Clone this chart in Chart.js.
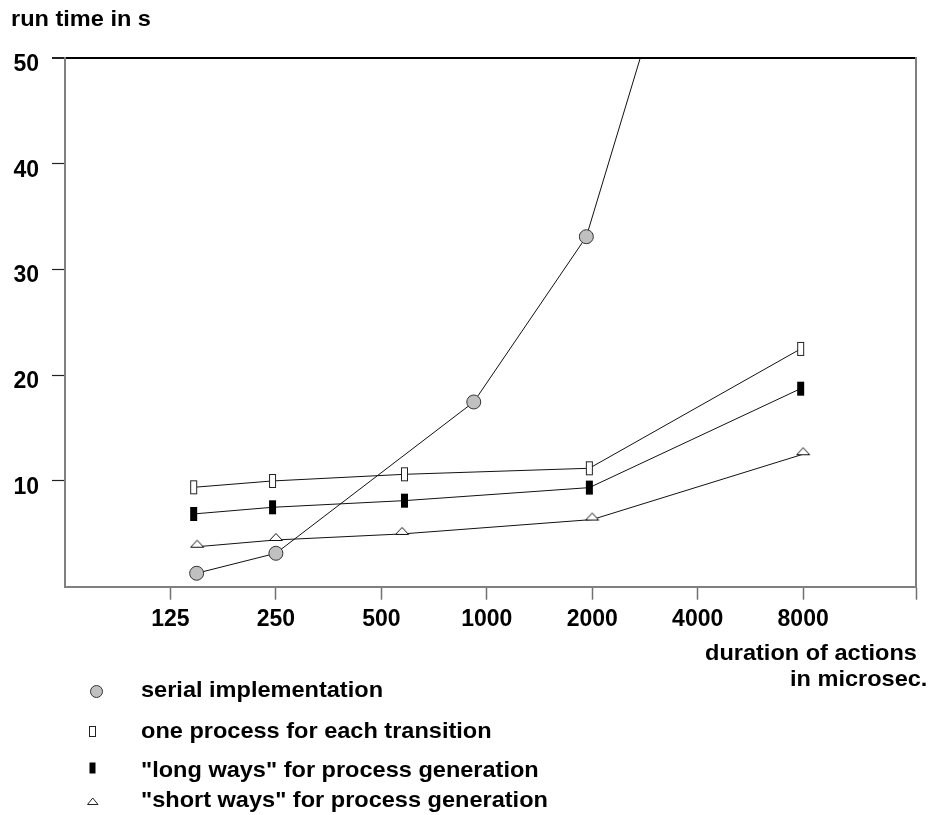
<!DOCTYPE html>
<html><head><meta charset="utf-8">
<script src="https://cdn.jsdelivr.net/npm/chart.js@4"></script>
<style>
html,body{margin:0;padding:0;background:#fff;}
#wrap{position:relative;width:930px;height:815px;overflow:hidden;}
#c{position:absolute;left:0;top:0;}
.t{position:absolute;font-family:"Liberation Sans",Arial,Helvetica,sans-serif;font-weight:bold;font-size:22px;line-height:22px;white-space:nowrap;color:#000;transform:scaleX(1.07);transform-origin:0 0;}
.m{position:absolute;}
</style></head>
<body><div id="wrap">
<canvas id="c" width="930" height="815"></canvas>
<div class="t" style="left:11px;top:8px">run time in s</div>
<div class="t" style="left:705px;top:641.5px">duration of actions</div>
<div class="t" style="left:790px;top:667.5px">in microsec.</div>
<svg class="m" style="left:89px;top:684px" width="15" height="15"><circle cx="7.5" cy="7.5" r="6" fill="#c0c0c0" stroke="#333" stroke-width="1"/></svg>
<svg class="m" style="left:89px;top:726px" width="8" height="12"><rect x="0.5" y="0.5" width="6" height="10" fill="#fff" stroke="#222" stroke-width="1"/></svg>
<svg class="m" style="left:89px;top:762px" width="8" height="12"><rect x="0.5" y="0.5" width="6" height="11" fill="#000"/></svg>
<svg class="m" style="left:87px;top:797px" width="12" height="9"><polygon points="0.5,7.5 11,7.5 5.75,1" fill="#fff" stroke="#222" stroke-width="1"/></svg>
<div class="t" style="left:141px;top:678.5px">serial implementation</div>
<div class="t" style="left:141px;top:719.5px">one process for each transition</div>
<div class="t" style="left:141px;top:758.5px">"long ways" for process generation</div>
<div class="t" style="left:141px;top:788.5px">"short ways" for process generation</div>
</div>
<script>
// ---- data ----
const xTickValues = [125, 250, 500, 1000, 2000, 4000, 8000];
const xMin = 62.5;
const xMax = 16800;
const yTickValues = [10, 20, 30, 40, 50];

const serialX = [148.5, 250, 918, 1924, 4000];
const serialY = [1.27, 3.16, 17.47, 33.1, 68];

const oneProcX = [145.6, 244.5, 582, 1962, 7870];
const oneProcY = [9.40, 10.0, 10.63, 11.2, 22.49];

const longWaysX = [145.6, 244.5, 582, 1962, 7870];
const longWaysY = [6.88, 7.51, 8.14, 9.37, 18.73];

const shortWaysX = [149, 250, 573, 2000, 8000];
const shortWaysY = [3.78, 4.42, 4.99, 6.35, 12.53];

const seriesNames = ['serial implementation', 'one process for each transition',
  '"long ways" for process generation', '"short ways" for process generation'];

// ---- marker images ----
function mk(w, h, draw) { const c = document.createElement('canvas'); c.width = w; c.height = h; draw(c.getContext('2d')); return c; }
const openRect = mk(9, 16, ctx => { ctx.fillStyle = '#fff'; ctx.fillRect(1, 1, 7, 14); ctx.strokeStyle = '#222'; ctx.lineWidth = 1; ctx.strokeRect(1.5, 1.5, 6, 13); });
const fillRect = mk(9, 16, ctx => { ctx.fillStyle = '#000'; ctx.fillRect(1, 1, 7, 14); });
const triImg = mk(16, 16, ctx => { ctx.beginPath(); ctx.moveTo(1.5, 8.5); ctx.lineTo(14.5, 8.5); ctx.lineTo(8, 1.5); ctx.closePath(); ctx.fillStyle = '#fff'; ctx.fill(); ctx.strokeStyle = '#111'; ctx.lineWidth = 1; ctx.stroke(); });

const zip = (xs, ys) => xs.map((x, i) => ({ x, y: ys[i] }));
const FONT = 'Liberation Sans, Arial, Helvetica, sans-serif';

const lineBase = { borderColor: '#111', borderWidth: 1, fill: false, tension: 0, showLine: true };

new Chart(document.getElementById('c'), {
  type: 'line',
  data: {
    datasets: [
      Object.assign({}, lineBase, { label: seriesNames[1], data: zip(oneProcX, oneProcY), pointStyle: openRect, pointRadius: 5 }),
      Object.assign({}, lineBase, { label: seriesNames[2], data: zip(longWaysX, longWaysY), pointStyle: fillRect, pointRadius: 5 }),
      Object.assign({}, lineBase, { label: seriesNames[3], data: zip(shortWaysX, shortWaysY), pointStyle: triImg, pointRadius: 5 }),
      Object.assign({}, lineBase, { label: seriesNames[0], data: zip(serialX, serialY), pointStyle: 'circle', pointRadius: 7,
        pointBackgroundColor: '#c0c0c0', pointBorderColor: '#333', pointBorderWidth: 1 })
    ]
  },
  options: {
    responsive: false,
    animation: false,
    layout: { padding: { left: 0, top: 58, right: 14, bottom: 0 } },
    plugins: { legend: { display: false }, tooltip: { enabled: false }, title: { display: false } },
    events: [],
    scales: {
      x: {
        type: 'logarithmic', min: xMin, max: xMax,
        afterBuildTicks(a) { a.ticks = xTickValues.concat([xMax]).map(v => ({ value: v })); },
        afterFit(a) { a.height = 228.3; },
        ticks: { autoSkip: false, maxRotation: 0, minRotation: 0, padding: 6, color: '#000',
          font: { family: FONT, size: 23, weight: 'bold' },
          callback: v => xTickValues.includes(v) ? String(v) : '' },
        grid: { drawOnChartArea: false, tickLength: 13, tickColor: '#707070', tickWidth: 1.5, color: '#707070' },
        border: { color: '#808080', width: 2 }
      },
      y: {
        type: 'linear', min: 0, max: 50,
        afterBuildTicks(a) { a.ticks = [0].concat(yTickValues).map(v => ({ value: v })); },
        afterFit(a) { a.width = 65; },
        ticks: { padding: 13, labelOffset: 6.5, color: '#000',
          font: { family: FONT, size: 23, weight: 'bold' },
          callback: v => yTickValues.includes(v) ? String(v) : '' },
        grid: {
          color: c => (c.tick && c.tick.value === 50) ? '#000' : 'rgba(0,0,0,0)',
          lineWidth: c => (c.tick && c.tick.value === 50) ? 2 : 1,
          tickColor: c => (c.tick && c.tick.value === 0) ? 'rgba(0,0,0,0)' : '#222',
          tickWidth: c => (c.tick && c.tick.value === 50) ? 2 : 1.2,
          tickLength: 13
        },
        border: { color: '#808080', width: 2 }
      },
      y2: {
        type: 'linear', position: 'right', min: 0, max: 50,
        afterFit(a) { a.width = 0; },
        ticks: { display: false },
        grid: { display: false, drawTicks: false },
        border: { display: true, color: '#808080', width: 2 }
      }
    }
  }
});
</script>
</body></html>
